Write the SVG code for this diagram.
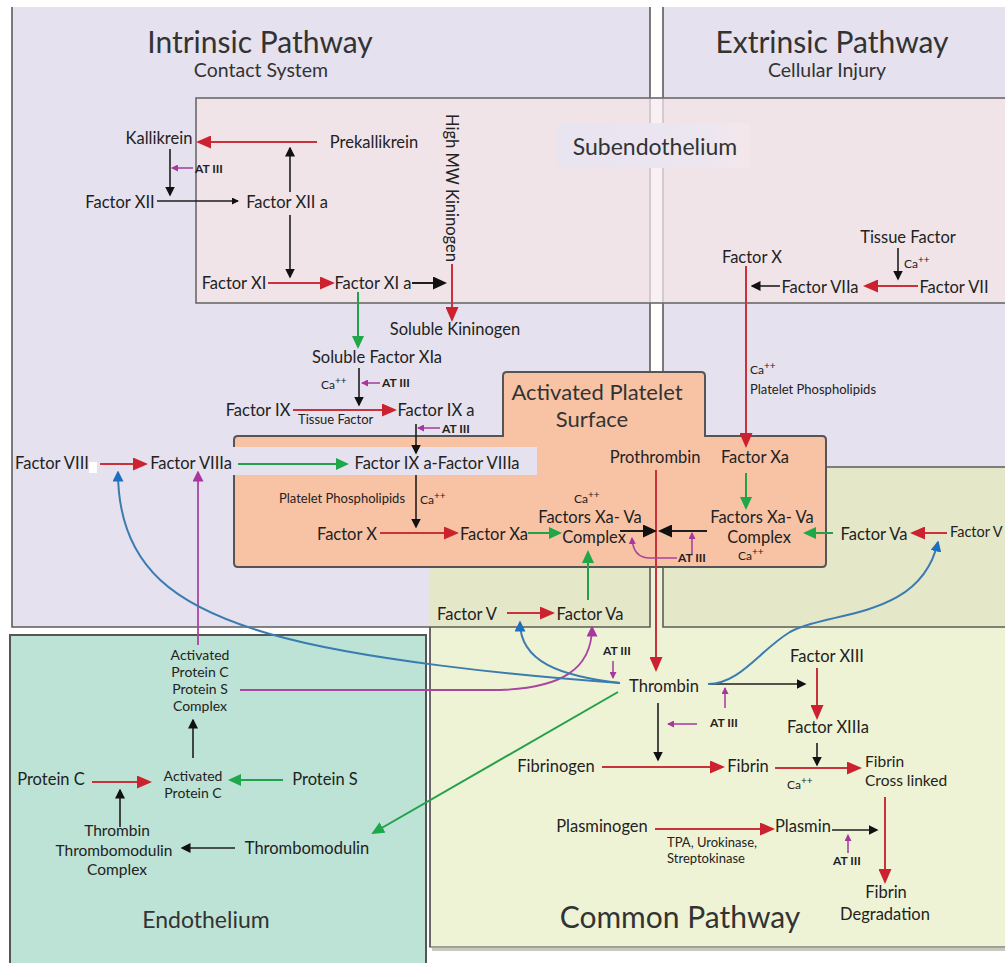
<svg xmlns="http://www.w3.org/2000/svg" width="1005" height="963" viewBox="0 0 1005 963">
<style>
text{font-family:Lato,"Open Sans","Liberation Sans",sans-serif;fill:#222}
.n{font-size:16.5px;text-anchor:middle}
.nl{font-size:16.5px}
.ti{font-size:30px;text-anchor:middle;fill:#333}
.st{font-size:19.5px;text-anchor:middle;fill:#333}
.rg{font-size:22px;text-anchor:middle;fill:#333}
.sm{font-size:13px}
.at{font-size:12px;font-weight:bold}
.ca{font-size:12px}
.r{stroke:#c9323a;stroke-width:2;fill:none;marker-end:url(#mr)}
.g{stroke:#22a04a;stroke-width:2;fill:none;marker-end:url(#mg)}
.k{stroke:#1e1e1e;stroke-width:1.6;fill:none;marker-end:url(#mkm)}
.kl{stroke:#1e1e1e;stroke-width:1.8;fill:none;marker-end:url(#mk)}
.ks{stroke:#1e1e1e;stroke-width:1.3;fill:none;marker-end:url(#mks)}
.p{stroke:#a8469f;stroke-width:1.6;fill:none;marker-end:url(#mp)}
.pl{stroke:#a8469f;stroke-width:1.8;fill:none;marker-end:url(#mpl)}
.b{stroke:#3a7cb0;stroke-width:2;fill:none;marker-end:url(#mb)}
.ln{stroke:#5c5c5c;stroke-width:1.6;fill:none}
</style>
<defs>
<marker id="mr" viewBox="0 0 15 13" refX="13" refY="6.5" markerWidth="15" markerHeight="13" markerUnits="userSpaceOnUse" orient="auto"><path d="M0,0L15,6.5L0,13z" fill="#cc2230"/></marker>
<marker id="mg" viewBox="0 0 13 12" refX="11" refY="6" markerWidth="13" markerHeight="12" markerUnits="userSpaceOnUse" orient="auto"><path d="M0,0L13,6L0,12z" fill="#1fa84a"/></marker>
<marker id="mk" viewBox="0 0 14 13" refX="12" refY="6.5" markerWidth="14" markerHeight="13" markerUnits="userSpaceOnUse" orient="auto"><path d="M0,0L14,6.5L0,13z" fill="#111"/></marker>
<marker id="mkm" viewBox="0 0 10 10" refX="8.5" refY="5" markerWidth="10" markerHeight="10" markerUnits="userSpaceOnUse" orient="auto"><path d="M0,0L10,5L0,10z" fill="#111"/></marker>
<marker id="mks" viewBox="0 0 7 7" refX="6" refY="3.5" markerWidth="7" markerHeight="7" markerUnits="userSpaceOnUse" orient="auto"><path d="M0,0L7,3.5L0,7z" fill="#111"/></marker>
<marker id="mp" viewBox="0 0 7 7" refX="6" refY="3.5" markerWidth="7" markerHeight="7" markerUnits="userSpaceOnUse" orient="auto"><path d="M0,0L7,3.5L0,7z" fill="#a8369f"/></marker>
<marker id="mpl" viewBox="0 0 11 11" refX="9.5" refY="5.5" markerWidth="11" markerHeight="11" markerUnits="userSpaceOnUse" orient="auto"><path d="M0,0L11,5.5L0,11z" fill="#a8369f"/></marker>
<marker id="mb" viewBox="0 0 11 11" refX="9.5" refY="5.5" markerWidth="11" markerHeight="11" markerUnits="userSpaceOnUse" orient="auto"><path d="M0,0L11,5.5L0,11z" fill="#1d6fc0"/></marker>
<linearGradient id="sublab" x1="0" y1="0" x2="1" y2="0"><stop offset="0" stop-color="#e8e4f0"/><stop offset="0.75" stop-color="#ece6f0"/><stop offset="1" stop-color="#f4e7ea"/></linearGradient>
</defs>

<!-- backgrounds -->
<rect x="0" y="0" width="1005" height="963" fill="#ffffff"/>
<rect x="432" y="948" width="590" height="3" fill="#c8c8c0"/>
<rect x="430" y="467" width="590" height="480" fill="#eff3d5" stroke="#8a8a80" stroke-width="1.6"/>
<rect x="12" y="7" width="638" height="620" fill="#e5e1ee"/>
<rect x="663" y="7" width="350" height="460" fill="#e5e1ee"/>
<rect x="430" y="467" width="220" height="160" fill="#e5e7c9"/>
<rect x="663" y="467" width="350" height="160" fill="#e5e7c9"/>
<path class="ln" d="M12,7L12,627L430,627M650,7L650,627L430,627L430,947M663,7L663,627L1005,627M663,467L1005,467"/>
<rect x="196" y="98" width="820" height="205" fill="#f1e4e9" stroke="#6a6a6a" stroke-width="1.6"/>
<rect x="651" y="99" width="11" height="203" fill="#f8f0f2"/>
<path d="M650,99L650,302M663,99L663,302" stroke="#b8b0b4" stroke-width="1"/>
<rect x="557" y="123" width="193" height="45" fill="url(#sublab)"/>
<path d="M234,440Q234,436 238,436L503,436L503,376Q503,372 507,372L701,372Q705,372 705,376L705,436L822,436Q826,436 826,440L826,563Q826,567 822,567L238,567Q234,567 234,563Z" fill="#f8c3a5" stroke="#555" stroke-width="2"/>
<rect x="232" y="447" width="305" height="28" fill="#e5e1ee"/>
<rect x="10" y="635" width="416" height="330" fill="#bde3d6" stroke="#555" stroke-width="2"/>

<!-- region titles -->
<g id="title-intrinsic"><text class="ti" x="260" y="53">Intrinsic Pathway</text><text class="st" x="261" y="77">Contact System</text></g>
<g id="title-extrinsic"><text class="ti" x="832" y="53">Extrinsic Pathway</text><text class="st" x="827" y="77">Cellular Injury</text></g>
<g id="label-subendothelium"><text class="rg" x="655" y="155" style="font-size:23px">Subendothelium</text></g>
<g id="label-platelet"><text class="rg" x="597" y="400">Activated Platelet</text><text class="rg" x="592" y="427">Surface</text></g>
<g id="label-endothelium"><text class="rg" x="206" y="928" style="font-size:23px">Endothelium</text></g>
<g id="label-common"><text class="ti" x="680" y="928">Common Pathway</text></g>

<!-- connectors -->
<g id="connectors">
<!-- red -->
<path class="r" d="M317,142L198,142"/>
<path class="r" d="M268,283L333,283"/>
<path class="r" d="M452,264L452,320"/>
<path class="r" d="M293,410L395,410"/>
<path class="r" d="M100,464L146,464"/>
<path class="r" d="M380,533L457,533"/>
<path class="r" d="M746,266L746,446"/>
<path class="r" d="M918,286L865,286"/>
<path class="r" d="M656,470L656,670"/>
<path class="r" d="M947,533L912,533"/>
<path class="r" d="M507,613L553,613"/>
<path class="r" d="M92,782L150,782"/>
<path class="r" d="M817,668L817,718"/>
<path class="r" d="M602,767L723,767"/>
<path class="r" d="M775,768L860,768"/>
<path class="r" d="M885,797L885,882"/>
<path class="r" d="M655,829L773,829"/>
<!-- green -->
<path class="g" d="M358,292L358,347"/>
<path class="g" d="M238,464L347,464"/>
<path class="g" d="M528,533L560,533"/>
<path class="g" d="M746,473L746,508"/>
<path class="g" d="M833,533L805,533"/>
<path class="g" d="M588,600L588,552"/>
<path class="g" d="M618,692L373,833"/>
<path class="g" d="M283,780L230,780"/>
<!-- black -->
<path class="k" d="M170,149L170,195"/>
<path class="ks" d="M157,201L238,201"/>
<path class="k" d="M290,192L290,148"/>
<path class="k" d="M290,215L290,277"/>
<path class="kl" d="M412,283L445,283"/>
<path class="k" d="M359,368L359,405"/>
<path class="k" d="M416,424L416,453"/>
<path class="k" d="M416,475L416,527"/>
<path class="k" d="M898,248L898,279"/>
<path class="k" d="M780,286L752,286"/>
<path class="kl" d="M620,531L655,531"/>
<path class="kl" d="M707,531L660,531"/>
<path class="k" d="M710,684L805,684"/>
<path class="k" d="M658,703L658,760"/>
<path class="k" d="M817,743L817,765"/>
<path class="k" d="M832,830L877,830"/>
<path class="k" d="M193,758L193,720"/>
<path class="k" d="M120,827L120,790"/>
<path class="k" d="M235,848L182,848"/>
<!-- purple -->
<path class="p" d="M193,168L172,168"/>
<path class="p" d="M380,383L362,383"/>
<path class="p" d="M440,428L418,428"/>
<path class="pl" d="M198,645L198,472"/>
<path class="pl" d="M240,690L500,690C560,688 592,670 592,627"/>
<path class="p" d="M677,558L650,558Q633,558 632,538"/>
<path class="p" d="M692,554L692,533"/>
<path class="p" d="M613,661L613,678"/>
<path class="p" d="M725,708L725,688"/>
<path class="p" d="M697,724L668,724"/>
<path class="p" d="M848,853L848,835"/>
<!-- blue -->
<path class="b" d="M620,683C520,676 360,660 270,634C180,608 118,570 118,472"/>
<path class="b" d="M620,683C560,676 520,662 520,622"/>
<path class="b" d="M708,684C740,684 760,650 790,632C830,610 920,620 938,542"/>
<!-- connector labels -->
<text class="at" x="195" y="173">AT III</text>
<text class="at" x="382" y="387">AT III</text>
<text class="at" x="442" y="433">AT III</text>
<text class="at" x="678" y="562">AT III</text>
<text class="at" x="603" y="655">AT III</text>
<text class="at" x="710" y="727">AT III</text>
<text class="at" x="833" y="865">AT III</text>
<text class="ca" x="321" y="389">Ca<tspan dy="-5" font-size="10">++</tspan></text>
<text class="ca" x="420" y="504">Ca<tspan dy="-5" font-size="10">++</tspan></text>
<text class="ca" x="750" y="374">Ca<tspan dy="-5" font-size="10">++</tspan></text>
<text class="ca" x="904" y="268">Ca<tspan dy="-5" font-size="10">++</tspan></text>
<text class="ca" x="574" y="503">Ca<tspan dy="-5" font-size="10">++</tspan></text>
<text class="ca" x="738" y="560">Ca<tspan dy="-5" font-size="10">++</tspan></text>
<text class="ca" x="787" y="789">Ca<tspan dy="-5" font-size="10">++</tspan></text>
<text class="sm" x="279" y="503">Platelet Phospholipids</text>
<text class="sm" x="750" y="394">Platelet Phospholipids</text>
<text class="sm" x="298" y="424">Tissue Factor</text>
<text class="sm" x="667" y="847">TPA, Urokinase,</text>
<text class="sm" x="667" y="863">Streptokinase</text>
</g>

<!-- nodes -->
<g id="kallikrein"><text class="n" x="159" y="144">Kallikrein</text></g>
<g id="prekallikrein"><text class="n" x="374" y="148">Prekallikrein</text></g>
<g id="factor-xii"><text class="n" x="120" y="208">Factor XII</text></g>
<g id="factor-xiia"><text class="n" x="287" y="208">Factor XII a</text></g>
<g id="factor-xi"><text class="n" x="234" y="289">Factor XI</text></g>
<g id="factor-xia"><text class="n" x="373" y="289">Factor XI a</text></g>
<g id="hmw-kininogen"><text class="n" transform="translate(446,188) rotate(90)" x="0" y="0">High MW Kininogen</text></g>
<g id="soluble-kininogen"><text class="n" x="455" y="335">Soluble Kininogen</text></g>
<g id="soluble-factor-xia"><text class="n" x="377" y="363">Soluble Factor XIa</text></g>
<g id="factor-ix"><text class="n" x="258" y="416">Factor IX</text></g>
<g id="factor-ixa"><text class="n" x="436" y="416">Factor IX a</text></g>
<g id="factor-viii"><text class="n" x="52" y="469">Factor VIII</text><rect x="89" y="462" width="8" height="11" fill="#fff"/></g>
<g id="factor-viiia"><text class="n" x="191" y="469">Factor VIIIa</text></g>
<g id="ixa-viiia"><text class="n" x="437" y="469">Factor IX a-Factor VIIIa</text></g>
<g id="factor-x-platelet"><text class="n" x="347" y="540">Factor X</text></g>
<g id="factor-xa-platelet"><text class="n" x="494" y="540">Factor Xa</text></g>
<g id="complex-left"><text class="n" x="590" y="523">Factors Xa- Va</text><text class="n" x="594" y="543">Complex</text></g>
<g id="prothrombin"><text class="n" x="655" y="463">Prothrombin</text></g>
<g id="factor-xa-right"><text class="n" x="755" y="463">Factor Xa</text></g>
<g id="complex-right"><text class="n" x="762" y="523">Factors Xa- Va</text><text class="n" x="759" y="543">Complex</text></g>
<g id="factor-va-right"><text class="n" x="874" y="540">Factor Va</text></g>
<g id="factor-v-right"><text class="nl" x="950" y="537" style="font-size:14.5px">Factor V</text></g>
<g id="factor-x-ext"><text class="n" x="752" y="263">Factor X</text></g>
<g id="tissue-factor"><text class="n" x="908" y="243">Tissue Factor</text></g>
<g id="factor-viia"><text class="n" x="820" y="293">Factor VIIa</text></g>
<g id="factor-vii"><text class="n" x="954" y="293">Factor VII</text></g>
<g id="factor-v-left"><text class="n" x="467" y="620">Factor V</text></g>
<g id="factor-va-left"><text class="n" x="590" y="620">Factor Va</text></g>
<g id="thrombin"><text class="n" x="664" y="692">Thrombin</text></g>
<g id="factor-xiii"><text class="n" x="827" y="662">Factor XIII</text></g>
<g id="factor-xiiia"><text class="n" x="828" y="733">Factor XIIIa</text></g>
<g id="fibrinogen"><text class="n" x="556" y="772">Fibrinogen</text></g>
<g id="fibrin"><text class="n" x="748" y="772">Fibrin</text></g>
<g id="fibrin-crosslinked"><text class="nl" x="865" y="767" style="font-size:15.5px">Fibrin</text><text class="nl" x="865" y="786" style="font-size:15.5px">Cross linked</text></g>
<g id="fibrin-degradation"><text class="n" x="886" y="898">Fibrin</text><text class="n" x="885" y="920">Degradation</text></g>
<g id="plasminogen"><text class="n" x="602" y="832">Plasminogen</text></g>
<g id="plasmin"><text class="nl" x="775" y="832">Plasmin</text></g>
<g id="apc-ps-complex"><text class="n" x="200" y="660" style="font-size:14px">Activated</text><text class="n" x="200" y="677" style="font-size:14px">Protein C</text><text class="n" x="200" y="694" style="font-size:14px">Protein S</text><text class="n" x="200" y="711" style="font-size:14px">Complex</text></g>
<g id="activated-protein-c"><text class="n" x="193" y="781" style="font-size:14px">Activated</text><text class="n" x="193" y="798" style="font-size:14px">Protein C</text></g>
<g id="protein-c"><text class="n" x="51" y="785">Protein C</text></g>
<g id="protein-s"><text class="n" x="325" y="785">Protein S</text></g>
<g id="thrombin-tm-complex"><text class="n" x="117" y="836" style="font-size:15.5px">Thrombin</text><text class="n" x="114" y="856" style="font-size:15.5px">Thrombomodulin</text><text class="n" x="117" y="875" style="font-size:15.5px">Complex</text></g>
<g id="thrombomodulin"><text class="n" x="307" y="854">Thrombomodulin</text></g>
</svg>
